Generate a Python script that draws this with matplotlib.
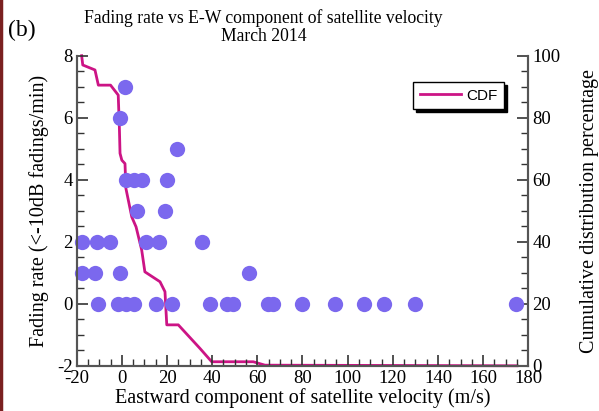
import matplotlib
matplotlib.use("Agg")
import matplotlib.pyplot as plt
from matplotlib.ticker import MultipleLocator

plt.rcParams["axes.unicode_minus"] = False

# Fading events: eastward satellite velocity (m/s) and fading rate (fadings/min)
vel_7 = [1.5]
vel_6 = [-1.0]
vel_5 = [24.3]
vel_4 = [1.8, 5.6, 9.0, 19.9]
vel_3 = [6.7, 19.1]
vel_2 = [-17.5, -11.0, -5.3, 10.5, 16.6, 35.6]
vel_1 = [-17.5, -11.8, -0.7, 56.4]
vel_0 = [-10.4, -1.8, 1.8, 5.3, 15.3, 22.3, 39.0, 46.7, 49.4, 64.6, 66.8,
         79.6, 94.6, 107.4, 116.1, 129.8, 174.6]

rate_groups = [(7, vel_7), (6, vel_6), (5, vel_5), (4, vel_4),
               (3, vel_3), (2, vel_2), (1, vel_1), (0, vel_0)]

# cumulative distribution curve (percent)
cdf_x = [-17.8, -17.3, -11.9, -10.4, -5.0, -1.6, -1.1, -0.8, 0.0, 1.4, 1.8,
         4.4, 6.3, 8.8, 10.2, 16.9, 19.1, 19.9, 25.0, 34.6, 39.8, 58.2, 63.4,
         175.0]
cdf_y = [100, 97.0, 95.4, 90.5, 90.5, 87.3, 77.1, 68.5, 66.3, 65.2, 57.2,
         48.0, 44.8, 37.3, 30.3, 27.1, 23.9, 13.2, 13.2, 5.6, 1.3, 1.3, 0.2,
         0.0]

serif = "Liberation Serif"
bg = "#ffe4e1"
dot_color = "#7b68ee"
line_color = "#cc1485"
spine_color = "#555555"

fig = plt.figure(figsize=(5.99, 4.11), dpi=100)
ax = fig.add_axes([0.128, 0.110, 0.754, 0.7545])
ax2 = ax.twinx()

# draw dots above the cdf line
ax.set_zorder(ax2.get_zorder() + 1)
ax.patch.set_visible(False)
ax2.patch.set_facecolor(bg)

cdf_line, = ax2.plot(cdf_x, cdf_y, color=line_color, lw=2.0, label="CDF",
                     clip_on=False)

for rate, vels in rate_groups:
    ax.plot(vels, [rate] * len(vels), "o", color=dot_color, ms=11,
            mec="none", clip_on=False)

ax.set_xlim(-20, 180)
ax.set_ylim(-2, 8)
ax2.set_ylim(0, 100)

ax.xaxis.set_major_locator(MultipleLocator(20))
ax.xaxis.set_minor_locator(MultipleLocator(5))
ax.yaxis.set_major_locator(MultipleLocator(2))
ax.yaxis.set_minor_locator(MultipleLocator(0.5))
ax2.yaxis.set_major_locator(MultipleLocator(20))
ax2.yaxis.set_minor_locator(MultipleLocator(5))

for a in (ax, ax2):
    a.tick_params(which="major", direction="in", length=8, width=1.2,
                  color="#333333", labelsize=13.5, pad=3)
    a.tick_params(which="minor", direction="in", length=5, width=1.0,
                  color="#333333")
    for lab in a.get_xticklabels() + a.get_yticklabels():
        lab.set_family(serif)
    for side in ("left", "right", "bottom"):
        a.spines[side].set_color(spine_color)
        a.spines[side].set_linewidth(1.5)
    a.spines["top"].set_visible(False)

ax.tick_params(axis="x", top=False)
ax.tick_params(axis="y", right=False)

ax.set_xlabel("Eastward component of satellite velocity (m/s)",
              family=serif, fontsize=14.5, labelpad=1)
ax.set_ylabel("Fading rate (<-10dB fadings/min)", family=serif,
              fontsize=14.5, labelpad=6)
ax2.set_ylabel("Cumulative distribution percentage", family=serif,
               fontsize=14.5, labelpad=14)

leg = ax.legend(handles=[cdf_line], loc="upper left",
                bbox_to_anchor=(0.745, 0.916), borderaxespad=0,
                prop={"family": "Liberation Sans", "size": 11},
                fancybox=False, framealpha=1, edgecolor="black",
                handlelength=2.7, handletextpad=0.3, borderpad=0.45,
                shadow={"color": "black", "alpha": 1})
leg.get_frame().set_linewidth(1.0)

fig.text(0.44, 0.955, "Fading rate vs E-W component of satellite velocity",
         ha="center", va="center", family=serif, fontsize=12.7)
fig.text(0.44, 0.91, "March 2014", ha="center", va="center", family=serif,
         fontsize=12.7)
fig.text(0.014, 0.927, "(b)", ha="left", va="center", family=serif,
         fontsize=17)

# dark edge along the left border
fig.add_artist(plt.Line2D([0.002, 0.002], [0, 1], color="#7a2020", lw=2.5,
                          transform=fig.transFigure))

fig.savefig("out.png", dpi=100)
